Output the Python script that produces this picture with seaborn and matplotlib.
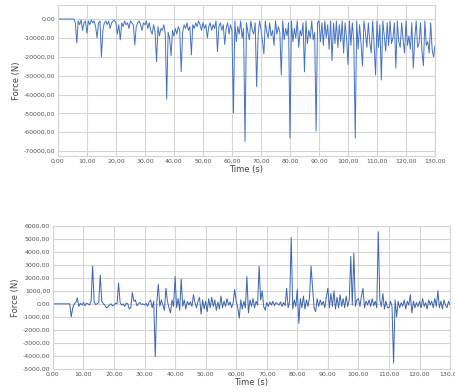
import numpy as np
import pandas as pd
import matplotlib
matplotlib.use("Agg")
import matplotlib.pyplot as plt
from matplotlib.ticker import FuncFormatter, MultipleLocator
import seaborn as sns

# sampling grid (s), 0.5 s steps from 0 to 130
time_s = np.arange(0, 130.5, 0.5)

# top panel force, in kN
force_top_k = [
    0, 0, 0, 0, 0, 0, 0, 0, 0, 0, 0, 0, -2, -12.7, -1, -3, -0.5, -6, -2, -1,
    -7.5, -1, -3, -0.5, -2, -1, -4, -10, -2, -1, -20, -6, -2, -1, -3, -1, -5, -2, -1, -0.5,
    -2, -8, -3, -11, -2, -4, -1, -3, -2, -5, -1, -2, -3, -13.7, -4, -2, -1, -3, -6, -2,
    -3, -1, -5, -2, -6, -8, -3, -7, -22.6, -4, -9, -5, -6, -3, -8, -42.5, -7, -10, -19.5, -6,
    -9, -5, -8, -4, -6, -27.9, -7, -3, -5, -2, -6, -4, -19, -3, -5, -2, -4, -1, -3, -6,
    -2, -5, -3, -10, -4, -2, -6, -3, -5, -1, -17.3, -4, -2, -6, -3, -13.5, -5, -2, -8, -3,
    -6, -49.8, -1, -12, -4, -8, -1, -10, -5, -64.9, -2, -7, -11, -1, -6, -8, -2, -35.8, -9, -1,
    -5, -12, -18.5, -1, -7, -10, -2, -9, -6, -14, -1, -8, -4, -7, -29.6, -1, -11, -5, -9, -2,
    -63.1, -1, -12, -5, -10, -1, -15, -6, -9, -2, -28, -1, -13, -6, -10, -1, -11, -7, -59.3, -2,
    -1, -12, -2, -14, -1, -10, -3, -16, -1, -22, -2, -13, -1, -15, -3, -12, -1, -18, -2, -10,
    -24, -1, -14, -2, -12, -63.1, -1, -16, -3, -13, -25, -1, -7, -15, -2, -12, -18, -1, -14, -29.6,
    -1, -15, -3, -32.3, -1, -9, -17, -2, -14, -1, -13, -10, -2, -26, -1, -12, -15, -2, -11, -18,
    -1, -14, -9, -16, -2, -26, -11, -1, -15, -13, -2, -17, -24.8, -1, -14, -12, -18, -2, -16, -20,
    -14,
]

# bottom panel force, in N
force_bottom = [
    0, 0, 0, 0, 0, 0, 0, 0, 0, 0, 0, 0, -1000, -300, 0, 100, 450, -200, 50, -100,
    100, -150, 50, 0, -100, 200, 2900, 150, -50, 0, 100, 2200, 200, 0, -100, -300, -250, -100, 0, -150,
    -100, 50, 0, 1600, 100, -100, 0, -200, 50, 0, -400, -300, 870, 200, 300, -150, 0, 100, -50, 0,
    -100, 50, -200, 150, 300, -300, 200, -4050, 100, 1500, -200, 300, -100, -500, 1200, 200, -300, -700, 300, -200,
    2100, -300, 400, -500, 1900, -200, 300, -400, 200, -100, 150, -200, 700, 100, -300, 200, 500, -800, 300, -400,
    200, -600, 400, -300, 500, -200, 300, -500, 150, -400, 600, -300, 200, -200, 400, -100, 150, -300, 100, 1100,
    200, -300, -1100, 300, -400, 200, -300, 2100, -700, 300, -200, 400, -300, 200, -100, 2900, 300, 1000, -200, -500,
    100, -200, 150, -100, 200, -150, 100, 0, -100, 150, -200, 100, -150, 1200, -300, 200, 5100, -400, 300, -200,
    1100, -1500, 400, -300, 600, -400, 300, -200, 500, 2900, 1200, -300, -600, 400, -200, 300, -100, 200, -300, 500,
    1200, -300, 800, -200, 1000, -400, 500, -300, 700, -200, 400, -300, 600, -200, 300, 3650, -100, 3900, -200, 300,
    400, -200, 600, 1200, -300, 200, -100, 300, -200, 400, -150, 200, -300, 5550, 300, -200, 800, -400, 200, -300,
    -300, 200, -200, -4550, 300, -1000, 200, -300, 100, -200, 300, -400, 200, -100, 700, -700, 200, -300, 100, -200,
    200, -300, 400, -200, 100, -400, 300, -100, 200, -300, 400, -200, 1000, -300, 200, -400, 300, -100, -300, 200,
    -100,
]

df_top = pd.DataFrame({"t": time_s, "f": np.array(force_top_k) * 1000})
df_bot = pd.DataFrame({"t": time_s, "f": force_bottom})

sns.set_style("whitegrid")
plt.rcParams["font.family"] = ["DejaVu Sans"]

fig = plt.figure(figsize=(4.56, 3.92), dpi=100)
ax1 = fig.add_axes([0.127, 0.602, 0.827, 0.385])
ax2 = fig.add_axes([0.116, 0.059, 0.871, 0.365])

comma = FuncFormatter(lambda v, p: f"{v:.2f}".replace(".", ","))

sns.lineplot(data=df_top, x="t", y="f", ax=ax1, color="#4472c4", linewidth=0.7)
ax1.set_xlim(0, 130)
ax1.set_ylim(-72600, 7400)
ax1.yaxis.set_major_locator(MultipleLocator(10000))
ax1.set_yticks(np.arange(-70000, 1, 10000))

sns.lineplot(data=df_bot, x="t", y="f", ax=ax2, color="#3b64b0", linewidth=0.7)
ax2.set_xlim(0, 130)
ax2.set_ylim(-5000, 6000)
ax2.set_yticks(np.arange(-5000, 6001, 1000))

for ax in (ax1, ax2):
    ax.set_xticks(np.arange(0, 131, 10))
    ax.xaxis.set_major_formatter(comma)
    ax.yaxis.set_major_formatter(comma)
    ax.tick_params(labelsize=4.5, colors="#555555", length=0, pad=2)
    ax.grid(color="#d4d4d4", linewidth=0.8)
    for s in ax.spines.values():
        s.set_color("#d4d4d4")
        s.set_linewidth(0.8)
    ax.set_xlabel("Time (s)", fontsize=6, color="#444444", labelpad=1)
    ax.set_ylabel("Force (N)", fontsize=6, color="#444444", labelpad=2)

fig.savefig("out.png", dpi=100)
